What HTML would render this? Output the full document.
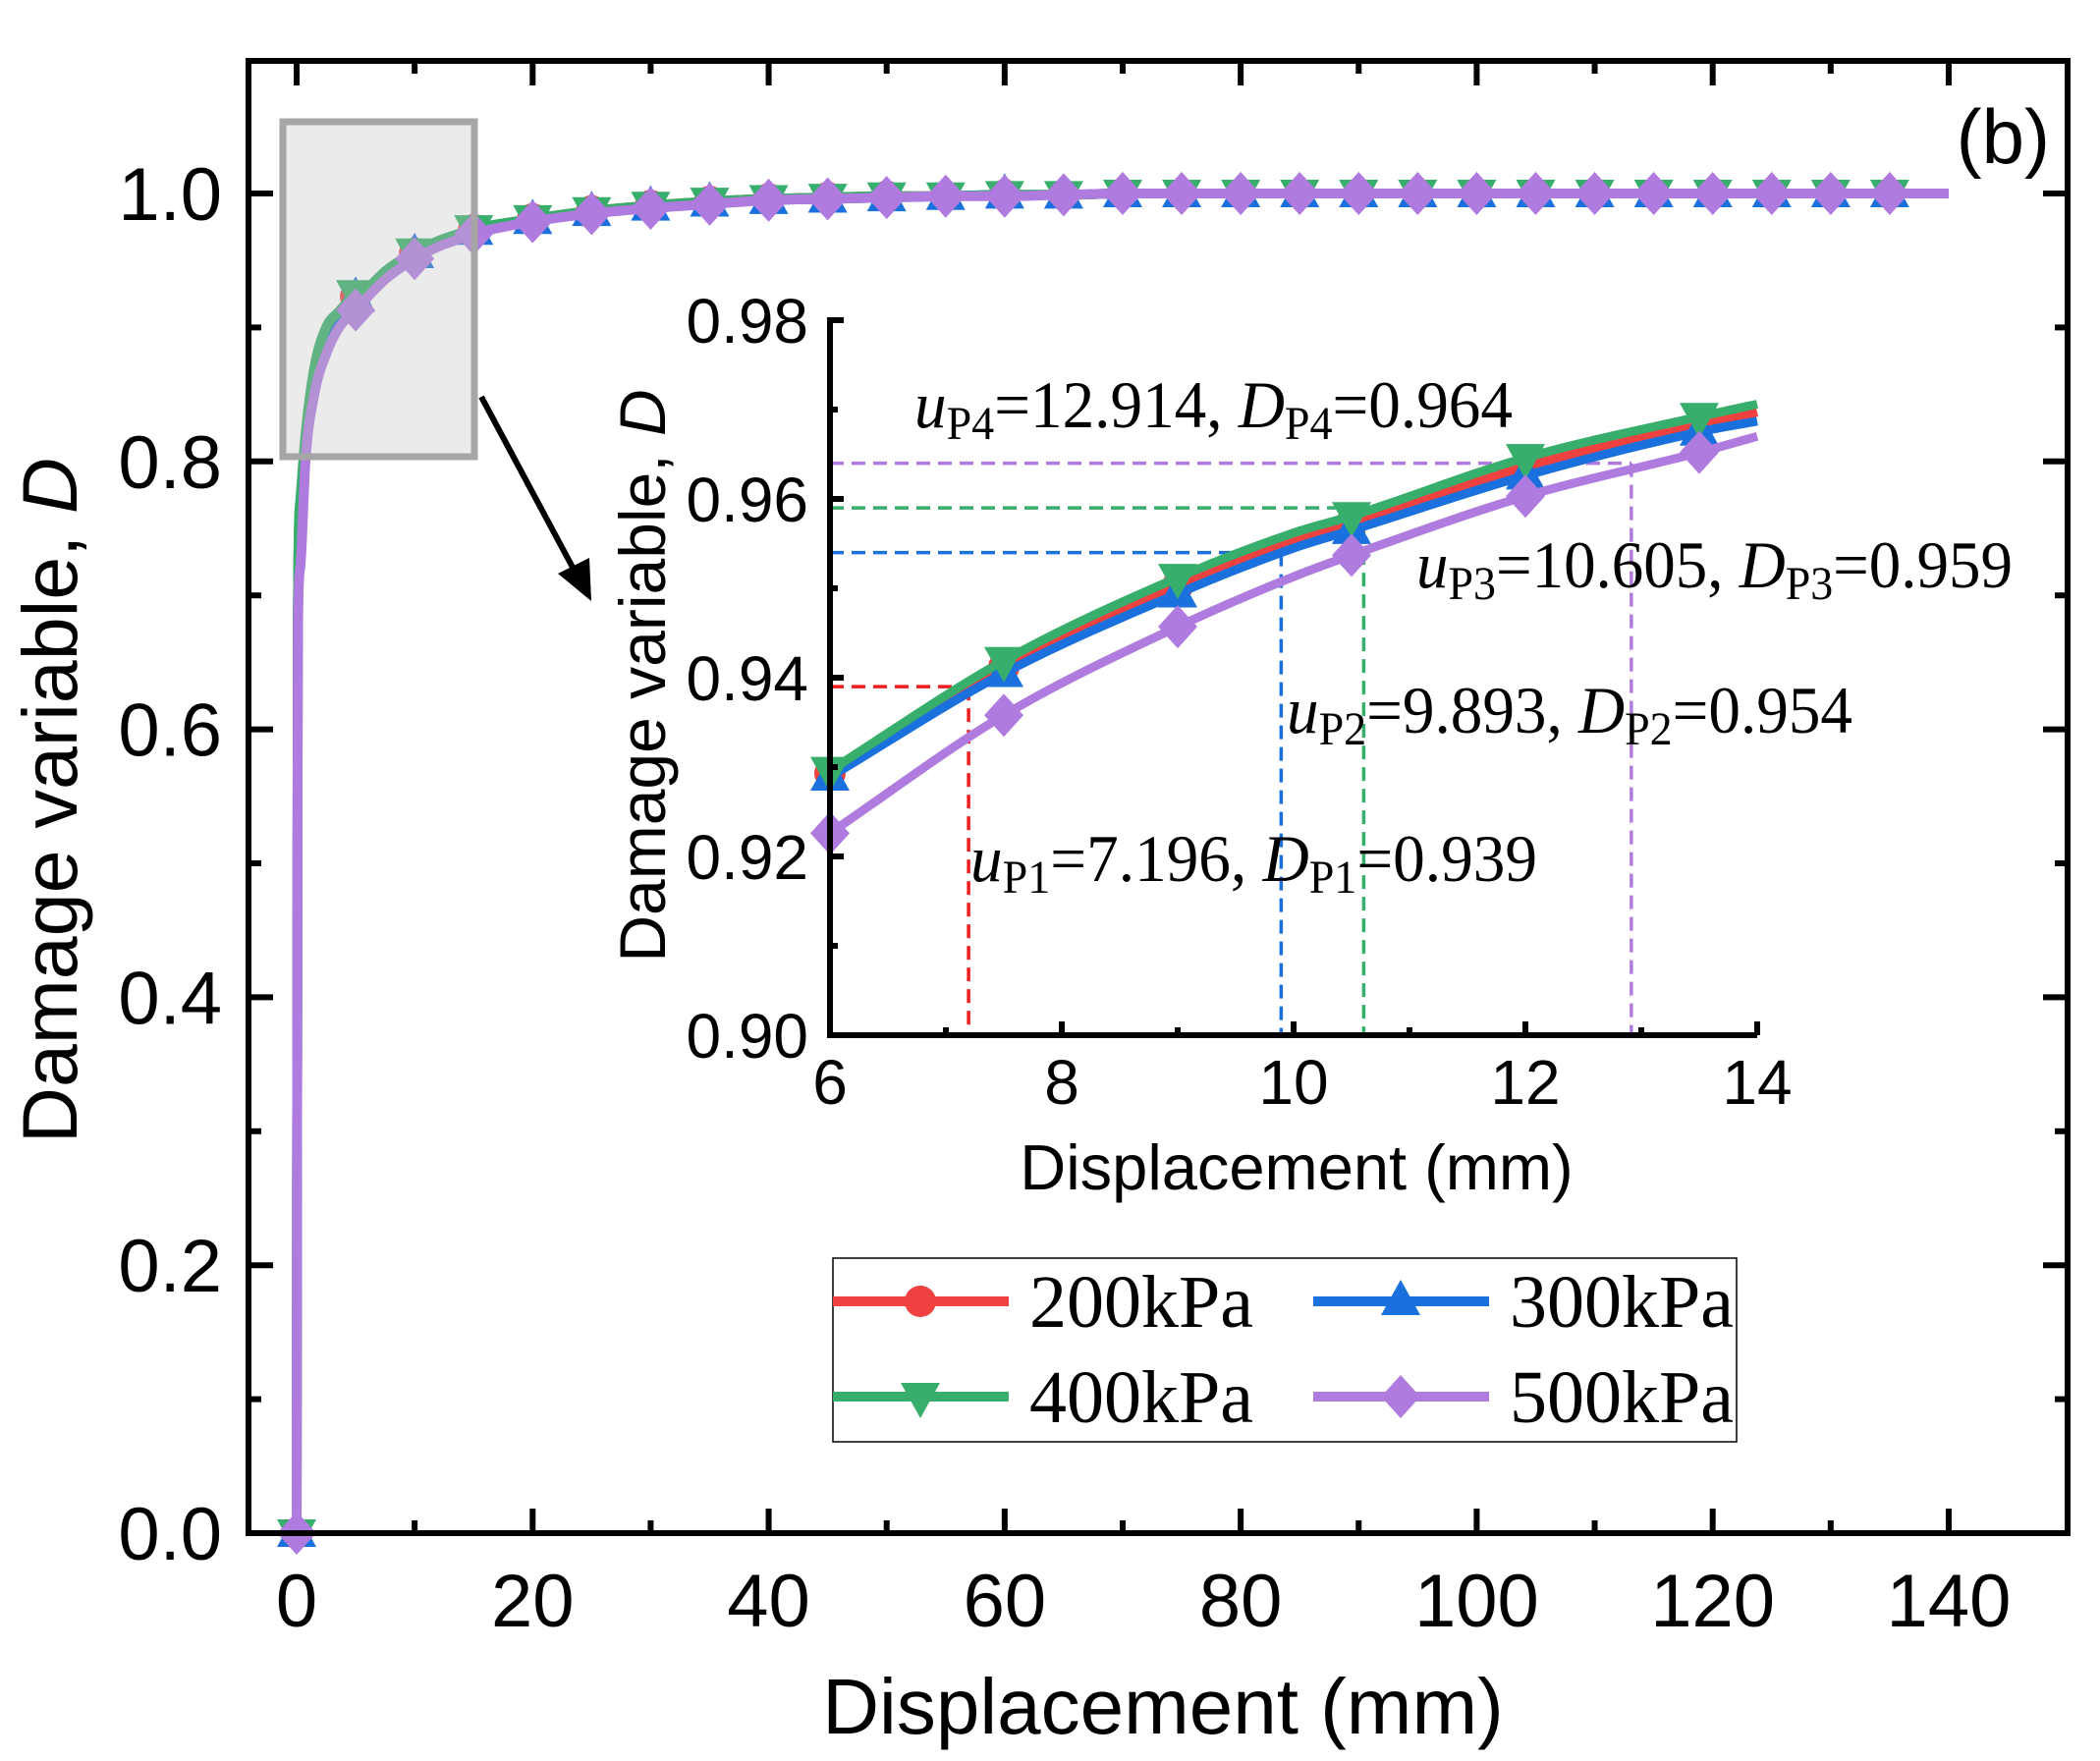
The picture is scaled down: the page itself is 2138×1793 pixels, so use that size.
<!DOCTYPE html>
<html><head><meta charset="utf-8"><style>
html,body{margin:0;padding:0;background:#fff;}
svg{display:block;}
.ar{font-family:"Liberation Sans",Arial,sans-serif;}
.tm{font-family:"Liberation Serif","Times New Roman",serif;}
</style></head><body>
<svg id="chart" width="2138" height="1793" viewBox="0 0 2138 1793" xmlns="http://www.w3.org/2000/svg">
<g id="main"></g>
<g id="inset"></g>
<g id="legend"></g>
</svg>
<script>
const seriesNames = ['200kPa','300kPa','400kPa','500kPa'];
const seriesColors = ['#F04141','#1A70DC','#37AE6B','#B07BDE'];
const seriesMarkers = ['circle','up','down','diamond'];
const uVals = [0,0.1,0.3,0.75,1.5,2.5,3.6,5,6,7.5,9,10,10.5,12,13.5,14,15,20,25,30,35,40,45,50,55,60,65,70,75,80,85,90,95,100,105,110,115,120,125,130,135,140];
const d200 = [0,0.675,0.765,0.818,0.866,0.897,0.91,0.923,0.9293,0.9412,0.9503,0.9553,0.9573,0.9636,0.9683,0.9697,0.973,0.981,0.987,0.991,0.994,0.996,0.997,0.998,0.998,0.999,0.999,1.0,1.0,1.0,1.0,1.0,1.0,1.0,1.0,1.0,1.0,1.0,1.0,1.0,1.0,1.0];
const d300 = [0,0.675,0.763,0.816,0.864,0.895,0.909,0.922,0.9289,0.9405,0.9494,0.9545,0.9565,0.9626,0.9675,0.9687,0.972,0.980,0.986,0.990,0.993,0.995,0.996,0.997,0.998,0.999,0.999,1.0,1.0,1.0,1.0,1.0,1.0,1.0,1.0,1.0,1.0,1.0,1.0,1.0,1.0,1.0];
const d400 = [0,0.68,0.77,0.82,0.87,0.90,0.912,0.925,0.9296,0.9419,0.9512,0.9562,0.9581,0.9646,0.9692,0.9706,0.9735,0.981,0.987,0.991,0.994,0.996,0.997,0.998,0.998,0.999,0.999,1.0,1.0,1.0,1.0,1.0,1.0,1.0,1.0,1.0,1.0,1.0,1.0,1.0,1.0,1.0];
const d500 = [0,0.66,0.72,0.80,0.85,0.88,0.90,0.913,0.9226,0.9358,0.9457,0.9513,0.9537,0.9603,0.9652,0.9670,0.970,0.979,0.985,0.989,0.992,0.995,0.996,0.997,0.998,0.998,0.999,1.0,1.0,1.0,1.0,1.0,1.0,1.0,1.0,1.0,1.0,1.0,1.0,1.0,1.0,1.0];
const seriesData = [d200,d300,d400,d500];
const xTicks = [0,20,40,60,80,100,120,140];
const yTicks = [0,0.2,0.4,0.6,0.8,1.0];
const yTickLabels = ['0.0','0.2','0.4','0.6','0.8','1.0'];
const ixTicks = [6,8,10,12,14];
const iyTicks = [0.90,0.92,0.94,0.96,0.98];
const iyTickLabels = ['0.90','0.92','0.94','0.96','0.98'];
const pU = [7.196,9.893,10.605,12.914];
const pD = [0.939,0.954,0.959,0.964];
const pColors = ['#F01E1E','#1A70DC','#37AE6B','#B07BDE'];

const NS='http://www.w3.org/2000/svg';
function mk(parent,tag,attrs,text){const e=document.createElementNS(NS,tag);for(const k in attrs)e.setAttribute(k,attrs[k]);if(text!==undefined)e.textContent=text;parent.appendChild(e);return e;}
const X=u=>302+u*12.014, Y=d=>1561-d*1364;
const XI=u=>845+(u-6)*118, YI=d=>1054-(d-0.9)/0.08*728;

function monoPath(pts){
  const n=pts.length; if(n<2) return '';
  const dx=[],m=[],t=[];
  for(let i=0;i<n-1;i++){dx.push(pts[i+1][0]-pts[i][0]);m.push((pts[i+1][1]-pts[i][1])/(dx[i]||1e-9));}
  t[0]=m[0];t[n-1]=m[n-2];
  for(let i=1;i<n-1;i++){t[i]=(m[i-1]*m[i]<=0)?0:(m[i-1]+m[i])/2;}
  for(let i=0;i<n-1;i++){if(m[i]===0){t[i]=0;t[i+1]=0;continue;}const a=t[i]/m[i],b=t[i+1]/m[i],s=a*a+b*b;if(s>9){const k=3/Math.sqrt(s);t[i]=k*a*m[i];t[i+1]=k*b*m[i];}}
  let d='M'+pts[0][0].toFixed(1)+','+pts[0][1].toFixed(1);
  for(let i=0;i<n-1;i++){const h=dx[i]/3;d+=' C'+(pts[i][0]+h).toFixed(1)+','+(pts[i][1]+h*t[i]).toFixed(1)+' '+(pts[i+1][0]-h).toFixed(1)+','+(pts[i+1][1]-h*t[i+1]).toFixed(1)+' '+pts[i+1][0].toFixed(1)+','+pts[i+1][1].toFixed(1);}
  return d;
}
function marker(g,type,x,y,color,s){
  let e;
  if(type==='circle') e=mk(g,'circle',{cx:x,cy:y,r:s*0.8,fill:color});
  else if(type==='up') e=mk(g,'polygon',{points:`${x},${y-s*1.1} ${x-s},${y+s*0.7} ${x+s},${y+s*0.7}`,fill:color});
  else if(type==='down') e=mk(g,'polygon',{points:`${x},${y+s*1.1} ${x-s},${y-s*0.7} ${x+s},${y-s*0.7}`,fill:color});
  else e=mk(g,'polygon',{points:`${x},${y-s*1.1} ${x+s},${y} ${x},${y+s*1.1} ${x-s},${y}`,fill:color});
  return e;
}

/* ---------- MAIN ---------- */
const gm=document.getElementById('main');
const L=253,R=2105,T=62,B=1561;
const tg=mk(gm,'g',{stroke:'#000','stroke-width':6});


for(let v=0;v<=150;v+=10){const x=X(v);if(x>R-4)continue;const len=(v%20===0)?25:13;mk(tg,'line',{x1:x,y1:B,x2:x,y2:B-len});mk(tg,'line',{x1:x,y1:T,x2:x,y2:T+len});}
for(let k=0;k<=10;k++){const v=k/10;const y=Y(v);const len=(k%2===0)?25:13;mk(tg,'line',{x1:L,y1:y,x2:L+len,y2:y});mk(tg,'line',{x1:R,y1:y,x2:R-len,y2:y});}
xTicks.forEach(v=>{const t=mk(gm,'text',{x:X(v),y:1656,'text-anchor':'middle','font-size':76,class:'ar'},String(v));

});
yTicks.forEach((v,i)=>{const t=mk(gm,'text',{x:226,y:Y(v)+27,'text-anchor':'end','font-size':76,class:'ar'},yTickLabels[i]);

});
const xt=mk(gm,'text',{x:1184,y:1765,'text-anchor':'middle','font-size':80,class:'ar'},'Displacement (mm)');


const yt=mk(gm,'text',{x:0,y:0,transform:'translate(78,815) rotate(-90)','text-anchor':'middle','font-size':79,class:'ar'});


mk(yt,'tspan',{},'Damage variable, ');mk(yt,'tspan',{'font-style':'italic'},'D');
const pb=mk(gm,'text',{x:2087,y:166,'text-anchor':'end','font-size':78,class:'ar'},'(b)');


seriesData.forEach((d,si)=>{
  const g=mk(gm,'g',{});
  
  
  const pts=uVals.map((u,i)=>[X(u),Y(d[i])]);
  const p=mk(g,'path',{d:monoPath(pts),fill:'none',stroke:seriesColors[si],'stroke-width':10,'stroke-linejoin':'round'});
  
  
  uVals.forEach((u,i)=>{if(u%5===0&&u<=135){const m=marker(g,seriesMarkers[si],X(u),Y(d[i]),seriesColors[si],20);
    
    }});
});
const zb=mk(gm,'rect',{x:288,y:124,width:195,height:341,fill:'rgb(190,190,190)','fill-opacity':0.31,stroke:'#a6a6a6','stroke-width':7});


const ar=mk(gm,'g',{});


mk(ar,'line',{x1:490,y1:404,x2:588,y2:587,stroke:'#000','stroke-width':6});
mk(ar,'polygon',{points:'602,612 568,584 600,568',fill:'#000'});
const fr=mk(gm,'rect',{x:L,y:T,width:R-L,height:B-T,fill:'none',stroke:'#000','stroke-width':6});



/* ---------- INSET ---------- */
const gi=document.getElementById('inset');
pU.forEach((u,i)=>{
  const g=mk(gi,'g',{stroke:pColors[i],'stroke-width':3.5,'stroke-dasharray':'14 8',fill:'none'});
  
  
  mk(g,'line',{x1:XI(6),y1:YI(pD[i]),x2:XI(u),y2:YI(pD[i])});
  mk(g,'line',{x1:XI(u),y1:YI(pD[i]),x2:XI(u),y2:YI(0.9)});
});
seriesData.forEach((d,si)=>{
  const g=mk(gi,'g',{});
  
  
  const pts=[];uVals.forEach((u,i)=>{if(u>=6&&u<=14)pts.push([XI(u),YI(d[i])]);});
  const p=mk(g,'path',{d:monoPath(pts),fill:'none',stroke:seriesColors[si],'stroke-width':9,'stroke-linejoin':'round'});
  
  
  uVals.forEach((u,i)=>{if(u>=6&&u<=13.5&&Math.abs(((u-6)/1.5)-Math.round((u-6)/1.5))<1e-6){const m=marker(g,seriesMarkers[si],XI(u),YI(d[i]),seriesColors[si],20);
    
    }});
});
const ia=mk(gi,'g',{stroke:'#000','stroke-width':6,fill:'none'});


mk(ia,'polyline',{points:`${XI(6)},${YI(0.98)-3} ${XI(6)},${YI(0.9)} ${XI(14)},${YI(0.9)}`});
for(let v=6;v<=14;v+=1){const len=(v%2===0)?14:8;if(v>6)mk(ia,'line',{x1:XI(v),y1:YI(0.9),x2:XI(v),y2:YI(0.9)-len});}
for(let k=0;k<=8;k++){const v=0.9+k*0.01;const len=(k%2===0)?14:8;if(k>0)mk(ia,'line',{x1:XI(6),y1:YI(v),x2:XI(6)+len,y2:YI(v)});}
ixTicks.forEach(v=>{const t=mk(gi,'text',{x:XI(v),y:1124,'text-anchor':'middle','font-size':64,class:'ar'},String(v));

});
iyTicks.forEach((v,i)=>{const t=mk(gi,'text',{x:823,y:YI(v)+23,'text-anchor':'end','font-size':64,class:'ar'},iyTickLabels[i]);

});
const ixt=mk(gi,'text',{x:1320,y:1211,'text-anchor':'middle','font-size':65,class:'ar'},'Displacement (mm)');


const iyt=mk(gi,'text',{x:0,y:0,transform:'translate(677,688) rotate(-90)','text-anchor':'middle','font-size':66,class:'ar'});


mk(iyt,'tspan',{},'Damage variable, ');mk(iyt,'tspan',{'font-style':'italic'},'D');
const annPos=[[988,897,577],[1310,746,576],[1442,598,607],[931,435,609]];
const annU=['7.196','9.893','10.605','12.914'];
const annD=['0.939','0.954','0.959','0.964'];
annPos.forEach((p,i)=>{
  const t=mk(gi,'text',{x:p[0],y:p[1],'font-size':68,class:'tm',textLength:p[2],lengthAdjust:'spacingAndGlyphs'});
  
  
  mk(t,'tspan',{'font-style':'italic'},'u');
  mk(t,'tspan',{'font-size':48,dy:12},'P'+(i+1));
  mk(t,'tspan',{dy:-12},'='+annU[i]+', ');
  mk(t,'tspan',{'font-style':'italic'},'D');
  mk(t,'tspan',{'font-size':48,dy:12},'P'+(i+1));
  mk(t,'tspan',{dy:-12},'='+annD[i]);
});

/* ---------- LEGEND ---------- */
const gl=document.getElementById('legend');
const lb=mk(gl,'rect',{x:848,y:1281,width:920,height:187,fill:'#fff',stroke:'#000','stroke-width':1.5});


const legPos=[[848,1325],[1337,1325],[848,1422],[1337,1422]];
seriesNames.forEach((nm,i)=>{
  const g=mk(gl,'g',{});
  
  
  const [x0,y0]=legPos[i];
  mk(g,'line',{x1:x0,y1:y0,x2:x0+179,y2:y0,stroke:seriesColors[i],'stroke-width':10});
  marker(g,seriesMarkers[i],x0+89,y0,seriesColors[i],20);
  mk(g,'text',{x:x0+200,y:y0+26,'font-size':76,class:'tm',textLength:228,lengthAdjust:'spacingAndGlyphs'},nm);
});
</script>
</body></html>
